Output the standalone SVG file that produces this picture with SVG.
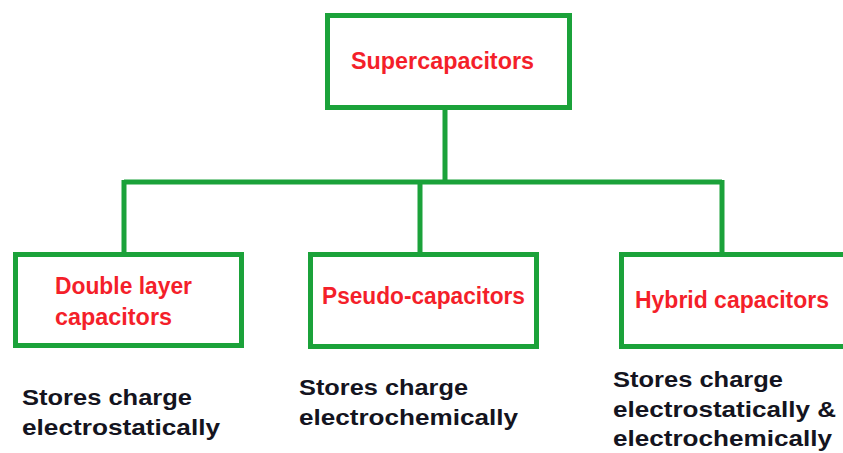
<svg xmlns="http://www.w3.org/2000/svg" width="843" height="453" viewBox="0 0 843 453">
<style>
.box{fill:#fff;stroke:#1ba23a;stroke-width:5}
.con{fill:none;stroke:#1ba23a;stroke-width:5}
.lbl{font-family:"Liberation Sans",Arial,sans-serif;font-size:23px;fill:#f41f2a;font-weight:bold}
.desc{font-family:"Liberation Sans",Arial,sans-serif;font-size:22px;fill:#141420;font-weight:bold}
</style>
<rect width="843" height="453" fill="#fff"/>
<g id="connectors">
<path class="con" d="M445,108 V182 M124,182 H722 M124,180 V253 M420,180 V253 M722,180 V253"/>
</g>
<g id="supercapacitors">
<rect class="box" x="327.5" y="15.5" width="242" height="92"/>
<text class="lbl" x="351" y="69" textLength="183" lengthAdjust="spacingAndGlyphs">Supercapacitors</text>
</g>
<g id="double-layer">
<rect class="box" x="15.5" y="254.5" width="226" height="91"/>
<text class="lbl" x="55" y="294" textLength="137" lengthAdjust="spacingAndGlyphs">Double layer</text>
<text class="lbl" x="55" y="325" textLength="117" lengthAdjust="spacingAndGlyphs">capacitors</text>
</g>
<g id="pseudo">
<rect class="box" x="310.5" y="254.5" width="226" height="92"/>
<text class="lbl" x="322" y="304" textLength="203" lengthAdjust="spacingAndGlyphs">Pseudo-capacitors</text>
</g>
<g id="hybrid">
<rect class="box" x="621.5" y="254.5" width="240" height="92"/>
<text class="lbl" x="635" y="308" textLength="194" lengthAdjust="spacingAndGlyphs">Hybrid capacitors</text>
</g>
<g id="desc-double">
<text class="desc" x="22" y="405" textLength="170" lengthAdjust="spacingAndGlyphs">Stores charge</text>
<text class="desc" x="22" y="435" textLength="198" lengthAdjust="spacingAndGlyphs">electrostatically</text>
</g>
<g id="desc-pseudo">
<text class="desc" x="299" y="395" textLength="169" lengthAdjust="spacingAndGlyphs">Stores charge</text>
<text class="desc" x="299" y="425" textLength="219" lengthAdjust="spacingAndGlyphs">electrochemically</text>
</g>
<g id="desc-hybrid">
<text class="desc" x="613" y="387" textLength="170" lengthAdjust="spacingAndGlyphs">Stores charge</text>
<text class="desc" x="613" y="417" textLength="223" lengthAdjust="spacingAndGlyphs">electrostatically &amp;</text>
<text class="desc" x="613" y="446" textLength="219" lengthAdjust="spacingAndGlyphs">electrochemically</text>
</g>
</svg>
